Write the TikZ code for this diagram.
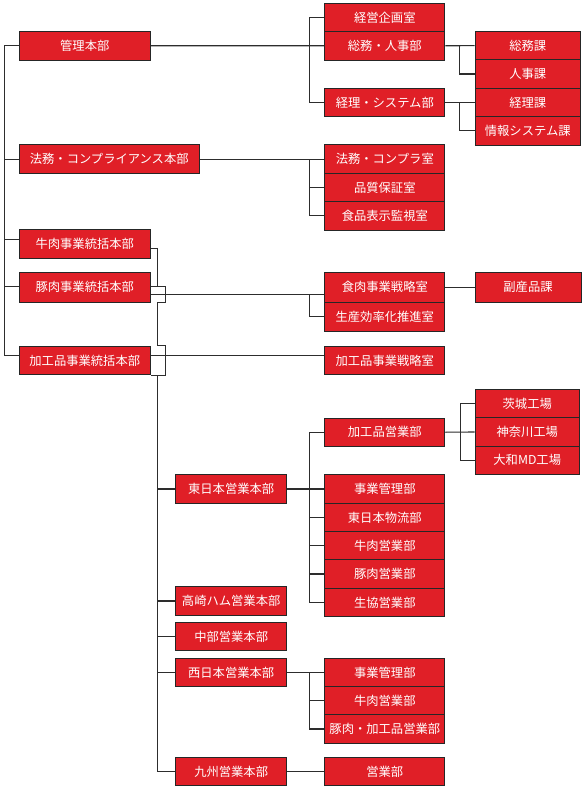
\documentclass[tikz,border=0pt]{standalone}
\usepackage{fontspec}
\setmainfont{Noto Sans CJK JP}
\definecolor{boxred}{RGB}{224,31,39}
\definecolor{lncol}{RGB}{45,45,45}
\newcommand\bx[6]{\node[box, anchor=north west, minimum width=#4pt, minimum height=#5pt] (#1) at (#2,#3) {#6};}
\begin{document}
\begin{tikzpicture}[x=1pt,y=-1pt,
  box/.style={draw=black!85, line width=1pt, fill=boxred, text=white, inner sep=0pt,
    font=\fontsize{12.3}{14}\selectfont},
  ln/.style={draw=lncol, line width=1.1pt}]
\useasboundingbox[fill=white] (0,0) rectangle (583,790);
% spine coordinates
\coordinate (L0) at (4.3,0);
\coordinate (M1) at (309.3,0);
\coordinate (R1) at (459.5,0);
\coordinate (R2) at (460.3,0);
\coordinate (S) at (157.5,0);
\coordinate (J) at (165.7,0);
% column A
\bx{kanri}{18.5}{30.7}{131.5}{29}{管理本部}
\bx{houmu}{18.5}{144.3}{180.5}{28.7}{法務・コンプライアンス本部}
\bx{gyuniku}{18.5}{229}{131.5}{29}{牛肉事業統括本部}
\bx{butaniku}{18.5}{271.7}{131.5}{30}{豚肉事業統括本部}
\bx{kakou}{18.5}{345.7}{131.5}{28.6}{加工品事業統括本部}
% column B
\bx{keiei}{324.3}{3}{120}{28}{経営企画室}
\bx{soumu}{324.3}{31}{120}{28.5}{総務・人事部}
\bx{keiri}{324.3}{87.7}{120}{28.3}{経理・システム部}
\bx{houmushitsu}{324.3}{144.3}{120}{28.7}{法務・コンプラ室}
\bx{hinshitsu}{324.3}{173}{120}{28}{品質保証室}
\bx{shokuhin}{324.3}{201}{120}{28.5}{食品表示監視室}
\bx{shokuniku}{324.3}{271.7}{120}{30}{食肉事業戦略室}
\bx{seisan}{324.3}{301.7}{120}{29.3}{生産効率化推進室}
\bx{kakousen}{324.3}{345.7}{120}{28.6}{加工品事業戦略室}
\bx{kakoueig}{324.3}{417.7}{120}{28}{加工品営業部}
\bx{jigyou}{324.3}{474.3}{120}{28.4}{事業管理部}
\bx{butsuryu}{324.3}{502.7}{120}{28.3}{東日本物流部}
\bx{gyueig}{324.3}{531}{120}{28.3}{牛肉営業部}
\bx{butaeig}{324.3}{559.3}{120}{28.4}{豚肉営業部}
\bx{seikyou}{324.3}{587.7}{120}{28.3}{生協営業部}
\bx{jigyou2}{324.3}{657.7}{120}{28.3}{事業管理部}
\bx{gyueig2}{324.3}{686}{120}{28.3}{牛肉営業部}
\bx{butakakou}{324.3}{714.3}{120}{28.4}{豚肉・加工品営業部}
\bx{eigyou}{324.3}{756.7}{120}{28.3}{営業部}
% column C
\bx{soumuka}{474.5}{31}{105.5}{28.3}{総務課}
\bx{jinjika}{474.5}{59.3}{105.5}{28.4}{人事課}
\bx{keirika}{474.5}{87.7}{105.5}{28.3}{経理課}
\bx{jouhou}{474.5}{116}{105.5}{28.7}{情報システム課}
\bx{fukusan}{474.5}{271.7}{106}{30}{副産品課}
\bx{ibaraki}{474.5}{389}{104.5}{28.3}{茨城工場}
\bx{kanagawa}{474.5}{417.3}{104.5}{28.4}{神奈川工場}
\bx{yamato}{474.5}{445.7}{104.5}{28.3}{大和MD工場}
% sales headquarters
\bx{higashi}{175}{474.3}{111.3}{28.4}{東日本営業本部}
\bx{takasaki}{175}{586}{111.3}{29}{高崎ハム営業本部}
\bx{chubu}{175}{622.3}{111.3}{28}{中部営業本部}
\bx{nishi}{175}{657.7}{111.3}{28.3}{西日本営業本部}
\bx{kyushu}{175}{756.7}{111.3}{28.3}{九州営業本部}
% shifted attachment points
\coordinate (kakouW) at ([yshift=5pt]kakou.west);
\coordinate (kakouE) at ([yshift=5pt]kakou.east);
\coordinate (kakousenW) at ([yshift=5pt]kakousen.west);
\coordinate (gyunikuW) at ([yshift=4.5pt]gyuniku.west);
\coordinate (gyunikuE) at ([yshift=-4.8pt]gyuniku.east);
\coordinate (butanikuW) at ([yshift=1pt]butaniku.west);
\coordinate (butanikuE) at ([yshift=1pt]butaniku.east);
\coordinate (butanikuE2) at ([yshift=-7.6pt]butaniku.east);
\coordinate (shokunikuW) at ([yshift=-7.6pt]shokuniku.west);
% ---- connectors ----
% main left spine
\draw[ln] (kanri.west) -- (L0 |- kanri.west) -- (L0 |- kakouW) -- (kakouW);
\draw[ln] (L0 |- houmu.west) -- (houmu.west);
\draw[ln] (L0 |- gyunikuW) -- (gyunikuW);
\draw[ln] (L0 |- butanikuW) -- (butanikuW);
% kanri group
\draw[ln] (kanri.east) -- (soumu.west);
\draw[ln] (keiei.west) -- (M1 |- keiei.west) -- (M1 |- keiri.west) -- (keiri.west);
\draw[ln] (soumu.east) -- (soumuka.west);
\draw[ln] (R1 |- soumuka.west) -- (R1 |- jinjika.west) -- (jinjika.west);
\draw[ln] (keiri.east) -- (keirika.west);
\draw[ln] (R1 |- keirika.west) -- (R1 |- jouhou.west) -- (jouhou.west);
% houmu group
\draw[ln] (houmu.east) -- (houmushitsu.west);
\draw[ln] (M1 |- houmushitsu.west) -- (M1 |- shokuhin.west) -- (shokuhin.west);
\draw[ln] (M1 |- hinshitsu.west) -- (hinshitsu.west);
% butaniku group
\draw[ln] (butanikuE2) -- (shokunikuW);
\draw[ln] (M1 |- shokunikuW) -- (M1 |- seisan.west) -- (seisan.west);
\draw[ln] (shokuniku.east) -- (fukusan.west);
% kakou group
\draw[ln] (kakouE) -- (kakousenW);
% sales spine with bridges
\draw[ln] (gyunikuE) -- (S |- gyunikuE) -- (S |- butanikuE);
\draw[ln] (butanikuE) -- (J |- butanikuE) -- (J |- butaniku.south) -- (S |- butaniku.south) -- (S |- kakou.north) -- (J |- kakou.north) -- (J |- kakou.south) -- (kakou.south east);
\draw[ln] (S |- kakou.south) -- (S |- kyushu.west) -- (kyushu.west);
\draw[ln] (S |- higashi.west) -- (higashi.west);
\draw[ln] (S |- takasaki.west) -- (takasaki.west);
\draw[ln] (S |- chubu.west) -- (chubu.west);
\draw[ln] (S |- nishi.west) -- (nishi.west);
% higashi group
\draw[ln] (higashi.east) -- (jigyou.west);
\draw[ln] (kakoueig.west) -- (M1 |- kakoueig.west) -- (M1 |- seikyou.west) -- (seikyou.west);
\draw[ln] (M1 |- butsuryu.west) -- (butsuryu.west);
\draw[ln] (M1 |- gyueig.west) -- (gyueig.west);
\draw[ln] (M1 |- butaeig.west) -- (butaeig.west);
% factories
\draw[ln] (kakoueig.east) -- (kanagawa.west);
\draw[ln] (ibaraki.west) -- (R2 |- ibaraki.west) -- (R2 |- yamato.west) -- (yamato.west);
% nishi group
\draw[ln] (nishi.east) -- (jigyou2.west);
\draw[ln] (M1 |- jigyou2.west) -- (M1 |- butakakou.west) -- (butakakou.west);
\draw[ln] (M1 |- gyueig2.west) -- (gyueig2.west);
% kyushu
\draw[ln] (kyushu.east) -- (eigyou.west);
\end{tikzpicture}
\end{document}
